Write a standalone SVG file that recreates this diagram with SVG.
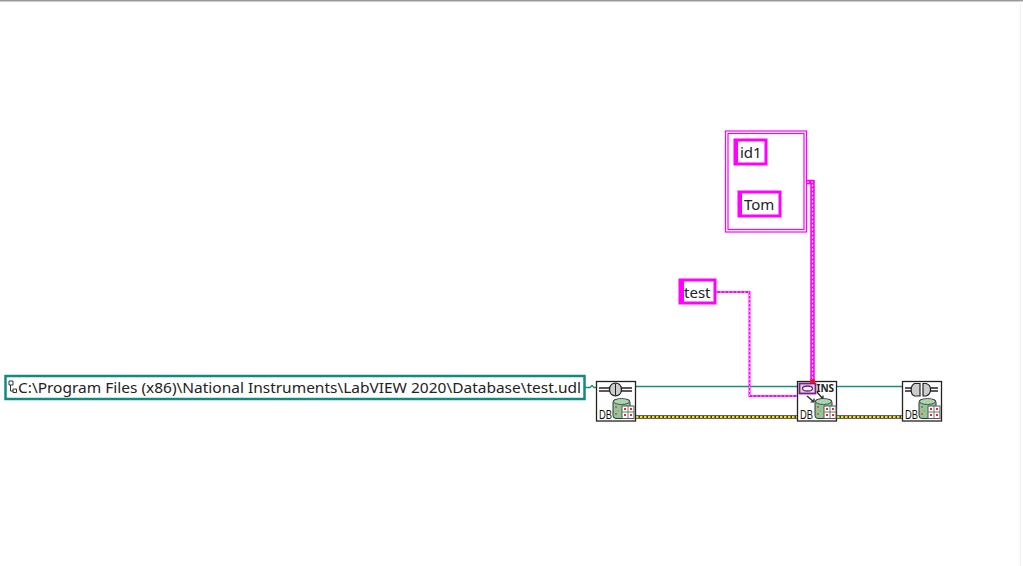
<svg xmlns="http://www.w3.org/2000/svg" width="1023" height="566" viewBox="0 0 1023 566">
<style>
text{font-family:"Noto Sans","Open Sans","Liberation Sans",sans-serif;fill:#222}
.lbl{font-size:15px}
.mg{fill:#fff;stroke:#ff00ff;stroke-width:3}
.icon{fill:#fff;stroke:#222;stroke-width:1.300}
.db{font-family:"Liberation Sans",sans-serif;font-size:12px;fill:#111}
.w{fill:none}
</style>
<defs>
<g id="dbpic">
<rect x="0" y="1.500" width="17" height="19" rx="3" fill="#8fc79a" stroke="#333" stroke-width="1"/>
<ellipse cx="8.500" cy="3.500" rx="8" ry="3" fill="#a9d4b0" stroke="#333" stroke-width="0.800"/>
<rect x="9" y="8" width="12" height="12.500" fill="#fff" stroke="#555" stroke-width="1"/>
<path d="M9 14H21M15 8V20.500" stroke="#777" stroke-width="1"/>
<rect x="11" y="10" width="2" height="2" fill="#d33"/><rect x="17" y="10" width="2" height="2" fill="#d33"/>
<rect x="11" y="16" width="2" height="2" fill="#d33"/><rect x="17" y="16" width="2" height="2" fill="#d33"/>
<circle cx="3" cy="9" r="0.900" fill="#e33"/><circle cx="5" cy="13" r="0.900" fill="#e83"/><circle cx="3" cy="16" r="0.900" fill="#e33"/>
</g>
</defs>
<rect width="1023" height="566" fill="#fff"/>
<rect x="0" y="0" width="1023" height="1.500" fill="#999"/>
<rect x="1020" y="1" width="1" height="565" fill="#f0f0f0"/>

<g id="connectors" class="w">
<path d="M585 387.500H590L592 385.500L594 387.500H597" stroke="#1f8a80" stroke-width="1.300"/>
<path d="M636 386.500H798M837 386.500H903" stroke="#1f8a80" stroke-width="1.300"/>
<path d="M636 417H798M837 417H903" stroke="#333" stroke-width="3.500"/>
<path d="M636 417H798M837 417H903" stroke="#f2e400" stroke-width="2.200" stroke-dasharray="2.500 1.500"/>
<path d="M716 292H749.500V396H798" stroke="#ff00ff" stroke-width="2"/>
<path d="M716 292H749.500V396H798" stroke="#fff" stroke-width="0.800" stroke-dasharray="1.500 2.500"/>
<path d="M807 182H812.500V382" stroke="#ff00ff" stroke-width="4.500"/>
<path d="M807 182H812.500V382" stroke="#fff" stroke-width="1.200" stroke-dasharray="2 2"/>
</g>

<g id="path-constant">
<rect x="5.500" y="376" width="579" height="23" fill="#fff" stroke="#118a80" stroke-width="2.500"/>
<path d="M9 381h4v4h-4zM10.500 385v6h3M13 389h3.500v3.500H13z" fill="none" stroke="#333" stroke-width="1"/>
<text class="lbl" x="18" y="393" textLength="563" lengthAdjust="spacingAndGlyphs">C:\Program Files (x86)\National Instruments\LabVIEW 2020\Database\test.udl</text>
</g>

<g id="cluster">
<rect x="725.500" y="131" width="81" height="101" fill="#fff" stroke="#ff00ff" stroke-width="1.200"/>
<rect x="728" y="133.500" width="76" height="96" fill="#fff" stroke="#ff00ff" stroke-width="1.200"/>
</g>
<g id="id1">
<rect x="735" y="140" width="31" height="24" class="mg"/>
<rect x="734" y="140" width="4" height="24" fill="#ff00ff"/>
<text class="lbl" x="740" y="157.500">id1</text>
</g>
<g id="tom">
<rect x="739" y="192" width="41" height="24" class="mg"/>
<rect x="738" y="192" width="4" height="24" fill="#ff00ff"/>
<text class="lbl" x="744" y="210">Tom</text>
</g>
<g id="test">
<rect x="680" y="280" width="35" height="23" class="mg"/>
<rect x="679" y="279" width="5" height="25" fill="#ff00ff"/>
<text class="lbl" x="684" y="298">test</text>
</g>

<g id="open-db">
<rect x="596.500" y="381.500" width="39" height="39.500" class="icon"/>
<path d="M599 388H632M599 391H632" stroke="#222" stroke-width="1.500"/>
<path d="M609.500 389.500C609.500 381 621.500 381 621.500 389.500C621.500 398 609.500 398 609.500 389.500Z" fill="#ccc" stroke="#222" stroke-width="1.300"/>
<path d="M615.500 384V395" stroke="#222" stroke-width="1"/>
<text class="db" x="599" y="418.500" textLength="13" lengthAdjust="spacingAndGlyphs">DB</text>
<use href="#dbpic" x="613" y="398"/>
</g>

<g id="insert">
<rect x="797.500" y="381.500" width="39" height="39.500" class="icon"/>
<rect x="799.500" y="383.500" width="16" height="10" fill="#ddd" stroke="#7a1f8a" stroke-width="1.800"/>
<ellipse cx="807.500" cy="388.500" rx="5" ry="2.500" fill="#fff" stroke="#7a1f8a" stroke-width="1.300"/>
<rect x="810" y="379.500" width="5" height="3.500" fill="#f01010"/>
<text x="816.500" y="391.500" font-family="Liberation Mono, monospace" font-size="10" font-weight="700">INS</text>
<path d="M807 396L814 402M814 402V398.500M814 402H810.500M817 392L823 399M823 399V395.500M823 399H819.500" fill="none" stroke="#222" stroke-width="1.200"/>
<text class="db" x="800" y="418.500" textLength="13" lengthAdjust="spacingAndGlyphs">DB</text>
<use href="#dbpic" x="815" y="398"/>
</g>

<g id="close-db">
<rect x="902.500" y="381.500" width="39" height="39.500" class="icon"/>
<path d="M905 388H916M905 391H916M926 388H938M926 391H938" stroke="#222" stroke-width="1.500"/>
<path d="M914.500 383.500H920V396H914.500C910 394 910 386 914.500 383.500ZM923 383.500H926C932 385 932 394 926 396H923Z" fill="#ccc" stroke="#222" stroke-width="1.200"/>
<text class="db" x="905" y="418.500" textLength="13" lengthAdjust="spacingAndGlyphs">DB</text>
<use href="#dbpic" x="919" y="398"/>
</g>
</svg>
